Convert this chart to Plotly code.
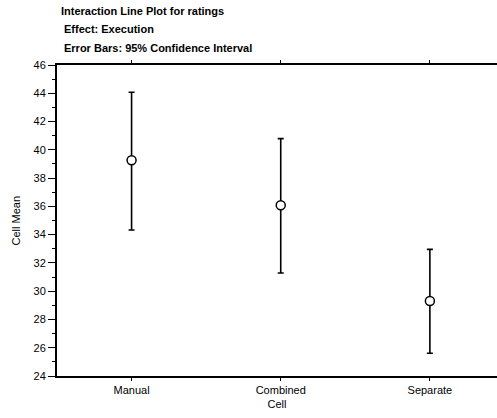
import plotly.graph_objects as go

categories = ["Manual", "Combined", "Separate"]
means = [39.26, 36.08, 29.31]
upper = [44.07, 40.79, 32.96]
lower = [34.33, 31.29, 25.61]

err_plus = [u - m for u, m in zip(upper, means)]
err_minus = [m - l for m, l in zip(means, lower)]

FONT = "Liberation Sans, Arial, sans-serif"

fig = go.Figure()
fig.add_trace(go.Scatter(
    x=categories, y=means, mode="markers",
    marker=dict(symbol="circle", size=9, color="white",
                line=dict(color="black", width=1.5)),
    error_y=dict(type="data", symmetric=False, array=err_plus,
                 arrayminus=err_minus, color="black", thickness=1.6, width=3),
    showlegend=False, cliponaxis=False,
))
# invisible trace on the top axis so its ticks are drawn
fig.add_trace(go.Scatter(x=categories, y=means, xaxis="x2", mode="markers",
                         marker=dict(opacity=0), showlegend=False, hoverinfo="skip"))

common_x = dict(type="category", range=[-0.5, 2.45], showgrid=False, zeroline=False,
                showline=True, linecolor="black", linewidth=2,
                ticks="outside", ticklen=3, tickwidth=1, tickcolor="black")

fig.update_layout(
    width=497, height=418,
    margin=dict(l=57, r=0, t=65, b=42),
    paper_bgcolor="white", plot_bgcolor="white",
    font=dict(family=FONT, size=11, color="black"),
    xaxis=dict(**common_x, title=dict(text="Cell", standoff=5, font=dict(size=11))),
    xaxis2=dict(**common_x, overlaying="x", side="top", showticklabels=False),
    yaxis=dict(
        range=[24, 46], dtick=2, tick0=24,
        showline=True, linecolor="black", linewidth=2, mirror=False,
        ticks="outside", ticklen=7, tickwidth=1, tickcolor="black",
        minor=dict(dtick=1, ticklen=3, ticks="outside", tickcolor="black", tickwidth=1),
        showgrid=False, zeroline=False,
    ),
    annotations=[
        dict(text="Cell Mean", xref="paper", yref="paper", x=(15 - 57) / 440, y=0.5,
             xanchor="center", yanchor="middle", textangle=-90,
             showarrow=False, font=dict(size=11)),
        dict(text="<b>Interaction Line Plot for ratings</b>", xref="paper", yref="paper",
             x=0.0045, y=1 + (65 - 11) / 311, xanchor="left", yanchor="middle",
             showarrow=False, font=dict(size=11)),
        dict(text="<b>Effect: Execution</b>", xref="paper", yref="paper",
             x=(62 - 57) / 440, y=1 + (65 - 29) / 311, xanchor="left", yanchor="middle",
             showarrow=False, font=dict(size=11)),
        dict(text="<b>Error Bars: 95% Confidence Interval</b>", xref="paper", yref="paper",
             x=(62 - 57) / 440, y=1 + (65 - 48) / 311, xanchor="left", yanchor="middle",
             showarrow=False, font=dict(size=11)),
    ],
)

fig.write_html("out.html")
